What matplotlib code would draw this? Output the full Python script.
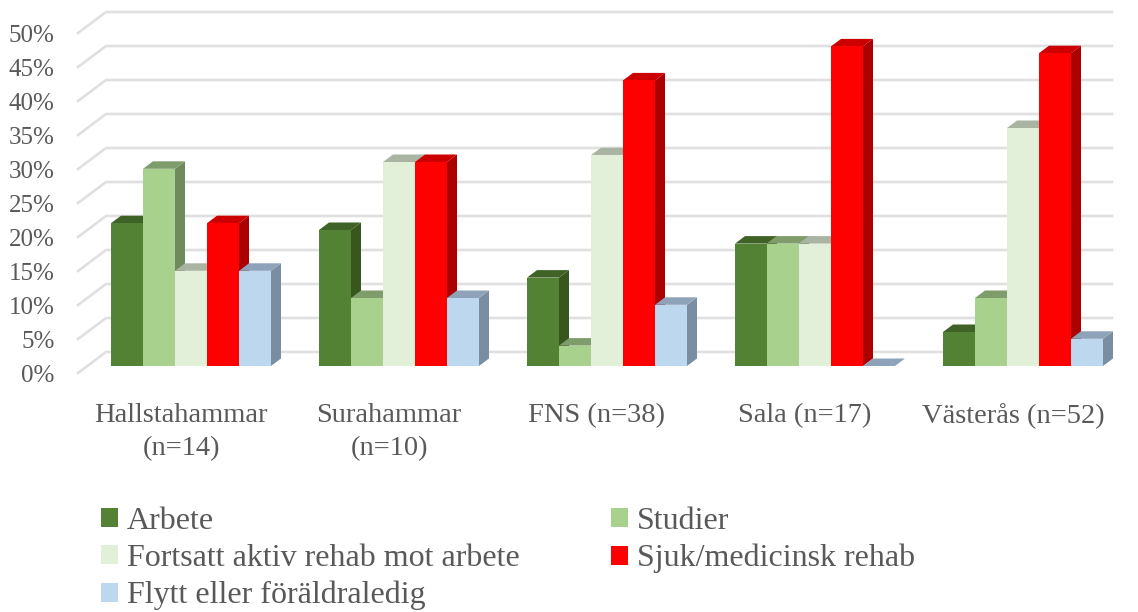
import matplotlib
matplotlib.use('Agg')
import matplotlib.pyplot as plt
from matplotlib.patches import Polygon
from matplotlib.transforms import ScaledTranslation
import numpy as np

categories = ['Hallstahammar\n(n=14)', 'Surahammar\n(n=10)', 'FNS (n=38)', 'Sala (n=17)', 'Västerås (n=52)']
series_names = ['Arbete', 'Studier', 'Fortsatt aktiv rehab mot arbete', 'Sjuk/medicinsk rehab', 'Flytt eller föräldraledig']
arbete = [21, 20, 13, 18, 5]
studier = [29, 10, 3, 18, 10]
fortsatt = [14, 30, 31, 18, 35]
sjuk = [21, 30, 42, 47, 46]
flytt = [14, 10, 9, 0, 4]
series = [arbete, studier, fortsatt, sjuk, flytt]
y_ticks = [0, 5, 10, 15, 20, 25, 30, 35, 40, 45, 50]

colors = ['#548235', '#A9D18E', '#E2F0D9', '#FF0000', '#BDD7EE']
side_colors = ['#38571f', '#6f8a5c', '#95a08f', '#aa0000', '#7a8ea3']
top_colors = ['#3f6227', '#7f9d6b', '#a9b4a3', '#cc0000', '#8ea2b9']
text_color = '#595959'

W, H = 1138, 612
plt.rcParams['font.family'] = ['Liberation Serif', 'DejaVu Serif']
plt.rcParams['font.size'] = 18

fig = plt.figure(figsize=(W / 100, H / 100), dpi=100)
# axes is the front plane of the 3d box, 0% at y=366 and 50% at y=26
ax = fig.add_axes([78 / W, 1 - 366 / H, (1112 - 78) / W, 340 / H])
ax.set_xlim((78 - 191) / 208, (1112 - 191) / 208)
ax.set_ylim(0, 50)
for s in ax.spines.values():
    s.set_visible(False)

bar_w = 32 / 208
dx = 10 / 208
dy = 7.5 / 6.8
x0 = ax.get_xlim()[0]
x1 = ax.get_xlim()[1]

# grid: slanted floor part and then the back wall
for t in y_ticks:
    ax.plot([x0, x0 + 28 / 208, x1], [t - 1.03, t + 2.06, t + 2.06], color='#E0E0E0',
            lw=1.9, clip_on=False, zorder=1)

z = 2
for g in range(len(categories)):
    for i, vals in enumerate(series):
        v = vals[g]
        left = g + (i - 2.5) * bar_w
        right = left + bar_w
        ax.add_patch(Polygon([(right, 0), (right + dx, dy), (right + dx, v + dy), (right, v)],
                             facecolor=side_colors[i], edgecolor='none', zorder=z, clip_on=False))
        ax.add_patch(Polygon([(left, v), (right, v), (right + dx, v + dy), (left + dx, v + dy)],
                             facecolor=top_colors[i], edgecolor='none', zorder=z, clip_on=False))
        ax.bar(left, v, bar_w, align='edge', color=colors[i], zorder=z + 0.5,
               label=series_names[i] if g == 0 else None)
        z += 1

ax.set_xticks(range(len(categories)))
ax.set_xticklabels(categories, color=text_color, fontsize=20.5, linespacing=1.42)
ax.set_yticks(y_ticks)
ax.set_yticklabels([f'{t}%' for t in y_ticks], color=text_color, fontsize=18)
ax.tick_params(length=0)
ax.tick_params(axis='x', pad=27)
ax.tick_params(axis='y', pad=17)
for lab in ax.get_xticklabels():
    lab.set_transform(lab.get_transform() + ScaledTranslation(-10 / 100, 0, fig.dpi_scale_trans))
for lab in ax.get_yticklabels():
    lab.set_transform(lab.get_transform() + ScaledTranslation(0, -8 / 100, fig.dpi_scale_trans))

handles, labels = ax.get_legend_handles_labels()
# columns fill top-down, so reorder to get the row order of the reference
order = [0, 2, 4, 1, 3]
ax.legend([handles[k] for k in order], [labels[k] for k in order], ncols=2, frameon=False,
          loc='upper left', bbox_to_anchor=(101 / W, 1 - 507 / H), bbox_transform=fig.transFigure,
          borderpad=0, borderaxespad=0, handlelength=0.53, handleheight=0.53, handletextpad=0.28,
          columnspacing=2.85, labelspacing=0.25, fontsize=23, labelcolor=text_color)

fig.savefig('out.png', dpi=100)
